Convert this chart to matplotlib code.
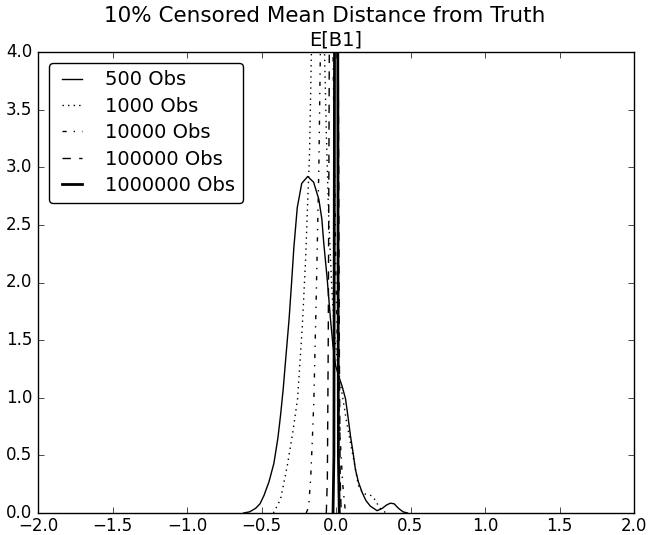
import numpy as np
import matplotlib
matplotlib.use("Agg")
import matplotlib.pyplot as plt

# curves (x = distance from truth, y = density)
x_500 = [-0.62, -0.58, -0.54, -0.51, -0.484, -0.45, -0.417, -0.39, -0.372, -0.354,
         -0.338, -0.315, -0.298, -0.283, -0.26, -0.23, -0.19, -0.15, -0.115, -0.095,
         -0.082, -0.059, -0.037, -0.02, -0.003, 0.02, 0.041, 0.064, 0.08, 0.097,
         0.115, 0.13, 0.15, 0.175, 0.2, 0.23, 0.276, 0.31, 0.34, 0.365, 0.39,
         0.42, 0.45, 0.48]
y_500 = [0.0, 0.01, 0.04, 0.08, 0.15, 0.27, 0.43, 0.65, 0.85, 1.08,
         1.33, 1.68, 2.0, 2.3, 2.65, 2.86, 2.92, 2.87, 2.72, 2.55,
         2.34, 2.03, 1.68, 1.45, 1.28, 1.18, 1.10, 0.99, 0.84, 0.67,
         0.52, 0.38, 0.27, 0.18, 0.11, 0.06, 0.02, 0.04, 0.07, 0.085, 0.08,
         0.04, 0.01, 0.0]

x_1000 = [-0.42, -0.372, -0.327, -0.29, -0.258, -0.226, -0.204, -0.19, -0.178, -0.165,
          -0.15, -0.12, -0.09, -0.077, -0.065, -0.05, -0.03, -0.01, 0.015, 0.04,
          0.07, 0.097, 0.125, 0.15, 0.18, 0.21, 0.24, 0.265, 0.285, 0.31, 0.34]
y_1000 = [0.0, 0.12, 0.41, 0.7, 0.99, 1.62, 2.2, 2.7, 3.1, 4.0,
          4.4, 4.5, 4.3, 4.0, 3.3, 2.6, 2.0, 1.55, 1.25, 1.04,
          0.8, 0.61, 0.42, 0.24, 0.17, 0.16, 0.15, 0.11, 0.06, 0.02, 0.0]

x_10000 = [-0.2, -0.184, -0.17, -0.16, -0.149, -0.133, -0.115, -0.105, -0.08, -0.06,
           -0.04, -0.02, 0.0, 0.015, 0.03, 0.045, 0.06, 0.07]
y_10000 = [0.0, 0.05, 0.3, 0.6, 0.96, 1.85, 3.0, 4.0, 7.0, 9.0,
           7.0, 4.0, 2.0, 1.1, 0.6, 0.25, 0.05, 0.0]

x_100000 = [-0.065, -0.058, -0.052, -0.045, -0.03, -0.015, 0.0, 0.015, 0.022, 0.028, 0.035]
y_100000 = [0.0, 0.3, 1.5, 4.0, 15.0, 27.0, 15.0, 4.0, 1.5, 0.3, 0.0]

x_1000000 = [-0.02, -0.014, -0.01, 0.0, 0.002, 0.006, 0.012, 0.016, 0.022]
y_1000000 = [0.0, 0.5, 4.0, 60.0, 80.0, 60.0, 4.0, 0.5, 0.0]

plt.style.use('classic')

fig = plt.figure(figsize=(6.49, 5.35), dpi=100, facecolor='white')
ax = fig.add_axes([38/649, 1 - 513/535, 596/649, 461/535])

ax.plot(x_500, y_500, 'k-', lw=1.0, label='500 Obs')
ax.plot(x_1000, y_1000, 'k:', lw=1.0, label='1000 Obs')
ax.plot(x_10000, y_10000, 'k-.', lw=1.0, label='10000 Obs')
ax.plot(x_100000, y_100000, 'k--', lw=1.0, label='100000 Obs')
ax.plot(x_1000000, y_1000000, 'k-', lw=2.0, label='1000000 Obs')

ax.set_xlim(-2, 2)
ax.set_ylim(0, 4)
ax.set_xticks(np.arange(-2, 2.01, 0.5))
ax.set_yticks(np.arange(0, 4.01, 0.5))
ax.tick_params(axis='x', pad=3)

ax.set_title('E[B1]', fontsize=14, pad=5)
fig.suptitle('10% Censored Mean Distance from Truth', fontsize=15.5, y=0.988)
ax.legend(loc='upper left', fontsize=14, handlelength=1.6, handletextpad=0.9,
          labelspacing=0.38, borderaxespad=0.55, fancybox=True)

fig.savefig('out.png', dpi=100, facecolor='white')
